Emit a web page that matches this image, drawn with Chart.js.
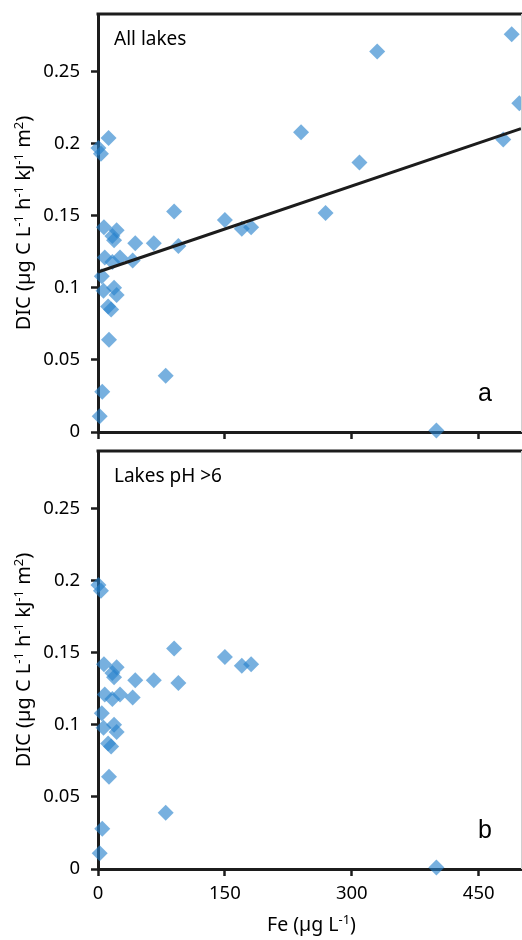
<!DOCTYPE html>
<html><head><meta charset="utf-8">
<script src="https://cdn.jsdelivr.net/npm/chart.js@4"></script>
<style>
html,body{margin:0;padding:0;background:#fff;}
body{width:522px;height:940px;position:relative;overflow:hidden;}
.box{position:absolute;left:0;width:522px;}
#boxA{top:0;height:450px;}
#boxB{top:437px;height:503px;}
</style></head><body>
<div class="box" id="boxA"><canvas id="cA" width="522" height="450"></canvas></div>
<div class="box" id="boxB"><canvas id="cB" width="522" height="503"></canvas></div>
<script>
// Panel a: all lakes
const feAll  = [0.5, 3.5, 12.5, 90, 7, 22, 17, 19, 44, 66, 95, 8, 17, 26, 41, 4.5, 6.5, 19, 22, 12, 15.5, 13, 80, 5, 2, 150, 170, 181, 240, 269, 309, 330, 479, 489, 498, 400];
const dicAll = [0.197, 0.193, 0.204, 0.153, 0.142, 0.140, 0.136, 0.133, 0.131, 0.131, 0.129, 0.121, 0.118, 0.121, 0.119, 0.108, 0.098, 0.100, 0.095, 0.087, 0.085, 0.064, 0.039, 0.028, 0.011, 0.147, 0.141, 0.142, 0.208, 0.152, 0.187, 0.264, 0.203, 0.276, 0.228, 0.001];
// Panel b: lakes pH > 6
const fePH  = [0.5, 3.5, 90, 7, 22, 17, 19, 44, 66, 95, 8, 17, 26, 41, 4.5, 6.5, 19, 22, 12, 15.5, 13, 80, 5, 2, 150, 170, 181, 400];
const dicPH = [0.197, 0.193, 0.153, 0.142, 0.140, 0.136, 0.133, 0.131, 0.131, 0.129, 0.121, 0.118, 0.121, 0.119, 0.108, 0.098, 0.100, 0.095, 0.087, 0.085, 0.064, 0.039, 0.028, 0.011, 0.147, 0.141, 0.142, 0.001];
// Regression line (panel a)
const trendFe  = [0, 500];
const trendDic = [0.111, 0.2105];
// Ticks and texts
const xTicks = [0, 150, 300, 450];
const yTicks = [0, 0.05, 0.1, 0.15, 0.2, 0.25];
const yTickLabels = ['0', '0.05', '0.1', '0.15', '0.2', '0.25'];
const panelTitles = ['All lakes', 'Lakes pH >6'];
const panelLetters = ['a', 'b'];
// axis titles as [text, isSuperscript] runs
const xTitleRuns = [['Fe (µg L', 0], ['-1', 1], [')', 0]];
const yTitleRuns = [['DIC (µg C L', 0], ['-1', 1], [' h', 0], ['-1', 1], [' kJ', 0], ['-1', 1], [' m', 0], ['2', 1], [')', 0]];

const FONT = '"Noto Sans", "Open Sans", sans-serif';
const INK = '#1c1c1c';
const TXT = '#000';

function drawRuns(ctx, runs, cx, cy, rot, size) {
  const main = size + 'px ' + FONT, sup = Math.round(size * 0.66) + 'px ' + FONT;
  let total = 0;
  runs.forEach(r => { ctx.font = r[1] ? sup : main; total += ctx.measureText(r[0]).width; });
  ctx.save();
  ctx.translate(cx, cy); ctx.rotate(rot);
  ctx.textAlign = 'left'; ctx.textBaseline = 'alphabetic'; ctx.fillStyle = TXT;
  let x = -total / 2;
  const base = size * 0.36;
  runs.forEach(r => {
    ctx.font = r[1] ? sup : main;
    ctx.fillText(r[0], x, r[1] ? base - size * 0.38 : base);
    x += ctx.measureText(r[0]).width;
  });
  ctx.restore();
}

const framePlugin = {
  id: 'frame',
  afterDraw(chart, args, opts) {
    const {ctx, chartArea: a} = chart;
    ctx.save();
    ctx.strokeStyle = INK; ctx.lineWidth = 3;
    ctx.beginPath(); ctx.moveTo(a.left - 1.5, a.top); ctx.lineTo(chart.width, a.top); ctx.stroke();
    ctx.strokeStyle = '#cfcfcf'; ctx.lineWidth = 1;
    ctx.beginPath(); ctx.moveTo(a.right + 0.5, a.top); ctx.lineTo(a.right + 0.5, a.bottom); ctx.stroke();
    ctx.fillStyle = TXT;
    ctx.font = '19px ' + FONT; ctx.textBaseline = 'middle'; ctx.textAlign = 'left';
    ctx.fillText(opts.title, a.left + 16, a.top + 26);
    ctx.font = '25px "Liberation Sans", Arial, sans-serif'; ctx.textAlign = 'center';
    ctx.fillText(opts.letter, a.left + 387, a.bottom - 38);
    ctx.restore();
    drawRuns(ctx, yTitleRuns, 23, (a.top + a.bottom) / 2, -Math.PI / 2, 20);
    if (opts.showX) drawRuns(ctx, xTitleRuns, (a.left + a.right) / 2 + 2, a.bottom + 55, 0, 19.5);
  }
};

function makeChart(id, fe, dic, withTrend, showX, idx) {
  const datasets = [];
  if (withTrend) {
    datasets.push({
      type: 'line',
      data: trendFe.map((x, i) => ({x: x, y: trendDic[i]})),
      borderColor: INK, borderWidth: 3, pointRadius: 0, fill: false, clip: false, tension: 0
    });
  }
  datasets.push({
    type: 'scatter',
    data: fe.map((x, i) => ({x: x, y: dic[i]})),
    pointStyle: 'rectRot', pointRadius: 8, pointHoverRadius: 8,
    backgroundColor: 'rgba(40,130,205,0.63)', borderWidth: 0, clip: false
  });
  return new Chart(document.getElementById(id), {
    type: 'scatter',
    data: {datasets: datasets},
    plugins: [framePlugin],
    options: {
      responsive: false, animation: false, devicePixelRatio: 1,
      layout: {autoPadding: false, padding: {top: 14, right: 1, left: 0, bottom: 0}},
      plugins: {legend: {display: false}, tooltip: {enabled: false},
        frame: {title: panelTitles[idx], letter: panelLetters[idx], showX: showX}},
      scales: {
        x: {
          type: 'linear', min: 0, max: 500,
          afterBuildTicks: s => { s.ticks = xTicks.map(v => ({value: v})); },
          afterFit: s => { s.height = showX ? 71 : 18; s.paddingLeft = 0; s.paddingRight = 0; },
          ticks: {display: showX, color: TXT, font: {family: FONT, size: 18.5}, padding: 7, maxRotation: 0, autoSkip: false},
          grid: {display: true, drawOnChartArea: false, drawTicks: true, tickLength: 7, tickWidth: 2.5, tickColor: INK},
          border: {display: true, color: INK, width: 3},
          title: {display: false}
        },
        y: {
          type: 'linear', min: 0, max: 0.29,
          afterBuildTicks: s => { s.ticks = yTicks.map(v => ({value: v})); },
          afterFit: s => { s.width = 98; s.paddingTop = 0; s.paddingBottom = 0; },
          ticks: {color: TXT, font: {family: FONT, size: 18.5}, padding: 11,
            callback: v => yTickLabels[yTicks.indexOf(v)]},
          grid: {display: true, drawOnChartArea: false, drawTicks: true, tickLength: 7, tickWidth: 2.5, tickColor: INK},
          border: {display: true, color: INK, width: 3},
          title: {display: false}
        }
      }
    }
  });
}

makeChart('cA', feAll, dicAll, true, false, 0);
makeChart('cB', fePH, dicPH, false, true, 1);
</script>
</body></html>
